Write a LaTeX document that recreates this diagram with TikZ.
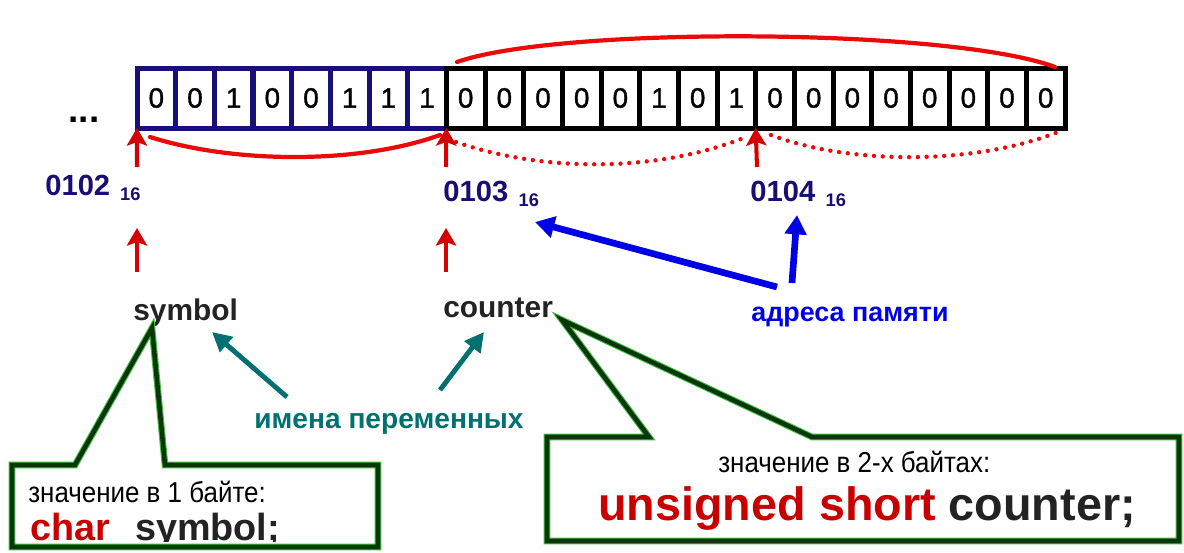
\documentclass[tikz,border=0pt]{standalone}
\usepackage{fontspec}
\setmainfont{Liberation Sans}
\newfontfamily\narrowfont[FakeStretch=0.9]{Liberation Sans}
\newfontfamily\digitfont[FakeBold=1.2]{Liberation Sans}
\usetikzlibrary{arrows.meta}

\definecolor{navy}{RGB}{25,15,120}
\definecolor{addrblue}{RGB}{25,15,115}
\definecolor{curvered}{RGB}{235,10,10}
\definecolor{arrowred}{RGB}{215,0,0}
\definecolor{textred}{RGB}{200,0,0}
\definecolor{memblue}{RGB}{0,0,230}
\definecolor{tealink}{RGB}{0,112,112}
\definecolor{calloutgreen}{RGB}{10,55,10}
\definecolor{glowgreen}{RGB}{70,190,70}
\definecolor{inkgray}{RGB}{35,35,35}

\tikzset{
  cellbox/.style={rectangle, fill=white, line width=0.1cm, outer sep=0pt,
    minimum width=0.7733cm, minimum height=1.2cm, inner sep=0pt,
    font=\digitfont\fontsize{15.9}{18}\selectfont},
  addr/.style={anchor=base west, inner sep=0pt, text=addrblue,
    font=\bfseries\fontsize{16.6}{19}\selectfont},
  varname/.style={anchor=base west, inner sep=0pt, text=inkgray,
    font=\bfseries\fontsize{17}{20}\selectfont},
  redup/.style={draw=arrowred, line width=2.3pt,
    -{Stealth[length=10pt,width=11.5pt,inset=2pt]}},
  bluearrow/.style={draw=memblue, line width=3.8pt,
    -{Triangle[length=11pt,width=12pt]}},
  tealarrow/.style={draw=tealink, line width=2.8pt,
    -{Triangle[length=11pt,width=11pt]}},
  bytecurve/.style={draw=curvered, line width=2.4pt, line cap=round},
  dotcurve/.style={draw=curvered, line width=2.5pt, line cap=round,
    dash pattern=on 0pt off 5pt},
  calloutglow/.style={draw=glowgreen, line width=3.8pt, line join=miter},
  calloutline/.style={draw=calloutgreen, line width=2.6pt, line join=miter},
  valuetext/.style={anchor=base west, inner sep=0pt, text=black,
    font=\narrowfont\fontsize{16.4}{19}\selectfont},
}

\newcommand{\subsix}{\raisebox{-0.1cm}{\fontsize{10.4}{12}\selectfont 16}}

\begin{document}
\begin{tikzpicture}[x=0.02cm, y=-0.02cm]
\useasboundingbox (0,0) rectangle (1184,552);

% memory cells: first byte framed in navy, the rest in black
\foreach \b [count=\i] in {0,0,1,0,0,1,1,1,0,0,0,0,0,1,0,1,0,0,0,0,0,0,0,0} {
  \pgfmathsetmacro\cx{137+(\i-0.5)*38.667}
  \ifnum\i<9
    \node[cellbox, draw=navy] (c\i) at (\cx,98) {\b};
  \else
    \node[cellbox, draw=black] (c\i) at (\cx,98) {\b};
  \fi
}

\node[anchor=base, inner sep=0pt, font=\bfseries\fontsize{21}{24}\selectfont]
  (dots) at (84,122) {...};

% byte spans above and below the cells
\coordinate (t1) at (457,62);  \coordinate (t2) at (1055,67);
\draw[bytecurve] (t1) .. controls (560,26) and (950,28) .. (t2);
\coordinate (s1) at (150,137); \coordinate (s2) at (440,135);
\draw[bytecurve] (s1) .. controls (235,164) and (360,164) .. (s2);
\coordinate (d1) at (456,142); \coordinate (d2) at (746,137);
\draw[dotcurve] (d1) .. controls (545,173) and (660,172) .. (d2);
\coordinate (d3) at (771,135); \coordinate (d4) at (1058,132);
\draw[dotcurve] (d3) .. controls (850,165) and (975,165) .. (d4);

% addresses
\node[addr] (a102) at (45,195) {0102\hspace{0.2cm}\subsix};
\node[addr] (a103) at (443,201) {0103\hspace{0.21cm}\subsix};
\node[addr] (a104) at (750,201) {0104\hspace{0.21cm}\subsix};

\coordinate (u1) at (137,167);
\coordinate (u2) at (446,167);
\coordinate (u3) at (757,167);
\draw[redup] (u1) -- (c1.south west);
\draw[redup] (u2) -- (c9.south west);
\draw[redup] (u3) -- (c17.south west);

% variable names
\node[varname] (symbol) at (133,320) {symbol};
\node[varname] (counter) at (443,317) {counter};

\coordinate (l1s) at (137,272); \coordinate (l1e) at (137,228);
\coordinate (l2s) at (446,272); \coordinate (l2e) at (446,228);
\draw[redup] (l1s) -- (l1e);
\draw[redup] (l2s) -- (l2e);

% captions with their pointers
\node[anchor=base, inner sep=0pt, text=memblue,
  font=\bfseries\fontsize{15.3}{18}\selectfont] (memaddr) at (850,321) {адреса памяти};
\coordinate (b1s) at (777,287); \coordinate (b1e) at (535,222);
\coordinate (b2s) at (792,283); \coordinate (b2e) at (797,215);
\draw[bluearrow] (b1s) -- (b1e);
\draw[bluearrow] (b2s) -- (b2e);

\node[anchor=base, inner sep=0pt, text=tealink,
  font=\bfseries\fontsize{16}{19}\selectfont] (varnames) at (389,428) {имена переменных};
\coordinate (v1s) at (287,397); \coordinate (v1e) at (212,332);
\coordinate (v2s) at (440,390); \coordinate (v2e) at (484,332);
\draw[tealarrow] (v1s) -- (v1e);
\draw[tealarrow] (v2s) -- (v2e);

% callout for the one-byte variable
\coordinate (p1) at (152,328);
\coordinate (p2) at (562,320);
\path[fill=white] (12,465) -- (75,465) -- (p1) -- (165,465) -- (378,465)
  -- (378,547) -- (12,547) -- cycle;
\node[valuetext] (val1) at (28,502) {значение в 1 байте:};
\begin{scope}
  \clip (12,465) rectangle (378,541);
  \node[anchor=base west, inner sep=0pt, text=inkgray,
    font=\bfseries\fontsize{21.5}{24}\selectfont] (decl1) at (30,540)
    {\textcolor{textred}{char}\hspace{0.5cm}symbol;};
\end{scope}
\draw[calloutglow] (12,465) -- (75,465) -- (p1) -- (165,465) -- (378,465)
  -- (378,547) -- (12,547) -- cycle;
\draw[calloutline] (12,465) -- (75,465) -- (p1) -- (165,465) -- (378,465)
  -- (378,547) -- (12,547) -- cycle;

% callout for the two-byte variable
\path[fill=white] (547,437) -- (649,437) -- (p2) -- (812,437) -- (1179,437)
  -- (1179,541) -- (547,541) -- cycle;
\draw[calloutglow] (547,437) -- (649,437) -- (p2) -- (812,437) -- (1179,437)
  -- (1179,541) -- (547,541) -- cycle;
\draw[calloutline] (547,437) -- (649,437) -- (p2) -- (812,437) -- (1179,437)
  -- (1179,541) -- (547,541) -- cycle;
\node[valuetext] (val2) at (718,472) {значение в 2-х байтах:};
\node[anchor=base west, inner sep=0pt, text=inkgray,
  font=\bfseries\fontsize{26.6}{30}\selectfont] (decl2) at (598,520)
  {\textcolor{textred}{unsigned short} counter;};
\end{tikzpicture}
\end{document}
